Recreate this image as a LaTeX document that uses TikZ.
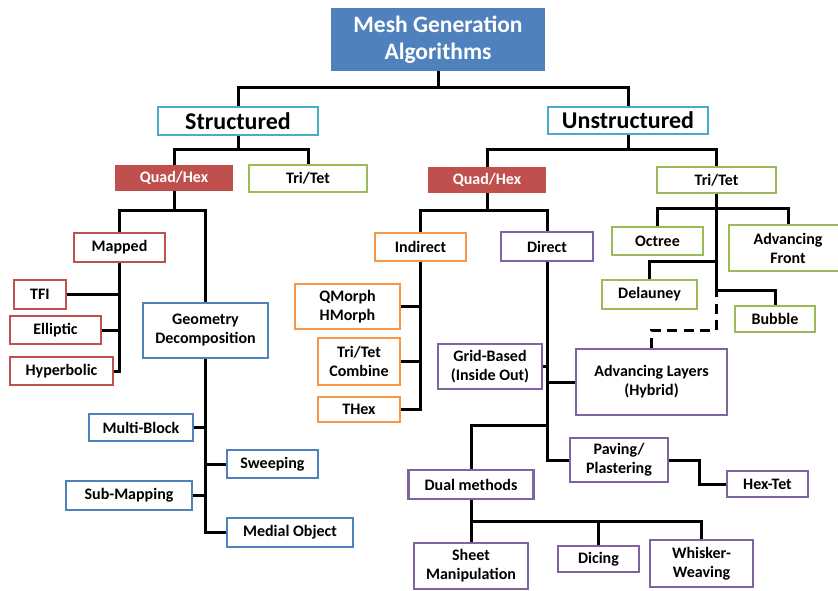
\documentclass[tikz,border=0pt]{standalone}
\usepackage{fontspec}
\setmainfont{Carlito}
\definecolor{cred}{HTML}{C0504D}
\definecolor{cgreen}{HTML}{9BBB59}
\definecolor{corange}{HTML}{F79646}
\definecolor{cpurple}{HTML}{8064A2}
\definecolor{cblue}{HTML}{4F81BD}
\definecolor{ccyan}{HTML}{4BACC6}
\tikzset{
  bx/.style={draw=#1, line width=2.2pt, fill=white, inner sep=0pt, align=center,
    font=\fontsize{16}{19}\selectfont\bfseries},
  big/.style={draw=ccyan, line width=2.2pt, fill=white, inner sep=0pt, align=center,
    font=\fontsize{24}{28}\selectfont\bfseries},
  filled/.style={fill=#1, draw=none, inner sep=0pt, align=center, text=white,
    font=\fontsize{16}{19}\selectfont\bfseries},
  conn/.style={line width=3pt, draw=black},
  sz/.style 2 args={minimum width=#1pt, minimum height=#2pt}
}
\begin{document}
\begin{tikzpicture}[x=1pt,y=-1pt]
\useasboundingbox (0,0) rectangle (838,590);

% nodes
\node[filled=cblue, sz={214}{63}, font=\fontsize{23.5}{27.5}\selectfont\bfseries] (title) at (438,39.5) {Mesh Generation\\Algorithms};
\node[big, sz={160}{28}] (str) at (238,121) {Structured};
\node[big, sz={160}{27}] (uns) at (628,120.5) {Unstructured};
\node[filled=cred, sz={118}{26}] (qhL) at (174,178) {Quad/Hex};
\node[bx=cgreen, sz={118}{27}] (ttL) at (308,178.5) {Tri/Tet};
\node[filled=cred, sz={118}{26}] (qhR) at (487,180) {Quad/Hex};
\node[bx=cgreen, sz={119}{26}] (ttR) at (716.5,180) {Tri/Tet};

\node[bx=cred, sz={91}{29}] (mapped) at (119.5,247.5) {Mapped};
\node[bx=cred, sz={52}{29}] (tfi) at (40,294.5) {TFI};
\node[bx=cred, sz={91}{28}] (ell) at (55.5,330) {Elliptic};
\node[bx=cred, sz={103}{28}] (hyp) at (61.5,371) {Hyperbolic};

\node[bx=cblue, sz={125}{55}] (geo) at (205.5,330.5) {Geometry\\Decomposition};
\node[bx=cblue, sz={104}{27}] (mb) at (141,427.5) {Multi-Block};
\node[bx=cblue, sz={91}{28}] (sw) at (272.5,464) {Sweeping};
\node[bx=cblue, sz={126}{29}] (sm) at (129,495.5) {Sub-Mapping};
\node[bx=cblue, sz={126}{29}] (mo) at (290,532.5) {Medial Object};

\node[bx=corange, sz={91}{28}] (ind) at (420.5,247) {Indirect};
\node[bx=corange, sz={105}{45}] (qm) at (347.5,306.5) {QMorph\\HMorph};
\node[bx=corange, sz={82}{47}] (tc) at (359,361.5) {Tri/Tet\\Combine};
\node[bx=corange, sz={82}{25}] (thex) at (359,409.5) {THex};

\node[bx=cpurple, sz={92}{29}] (dir) at (547,246.5) {Direct};
\node[bx=cpurple, sz={104}{45}] (grid) at (490,366.5) {Grid-Based\\(Inside Out)};
\node[bx=cpurple, sz={151}{66}] (al) at (651.5,382) {Advancing Layers\\(Hybrid)};
\node[bx=cpurple, sz={98}{44}] (pav) at (619,460) {Paving/\\Plastering};
\node[bx=cpurple, sz={81}{26}] (ht) at (767.5,484) {Hex-Tet};
\node[bx=cpurple, sz={125}{29}] (dual) at (471,484.5) {Dual methods};
\node[bx=cpurple, sz={114}{46}] (sheet) at (471,566) {Sheet\\Manipulation};
\node[bx=cpurple, sz={81}{26}] (dic) at (598.5,559) {Dicing};
\node[bx=cpurple, sz={103}{47}] (wh) at (701.5,563.5) {Whisker-\\Weaving};

\node[bx=cgreen, sz={91}{28}] (oct) at (657.5,241) {Octree};
\node[bx=cgreen, sz={118}{46}] (af) at (788,248) {Advancing\\Front};
\node[bx=cgreen, sz={95}{29}] (del) at (649.5,294.5) {Delauney};
\node[bx=cgreen, sz={80}{26}] (bub) at (775,319) {Bubble};

% connectors
\draw[conn] (title.south) -- ++(0,18);
\draw[conn] (str.north) -- ++(0,-18) -| (uns.north);

\draw[conn] (str.south) -- ++(0,15);
\draw[conn] (qhL.north) -- ++(0,-15) -| (ttL.north);
\draw[conn] (uns.south) -- ++(0,16);
\draw[conn] (qhR.north) -- ++(0,-17) -| (ttR.north);

\draw[conn] (qhL.south) -- ++(0,21);
\draw[conn] (mapped.north) -- ++(0,-21) -| (geo.north);
\draw[conn] (mapped.south) |- (hyp.east);
\draw[conn] (tfi.east) -- (tfi.east -| mapped.south);
\draw[conn] (ell.east) -- (ell.east -| mapped.south);

\draw[conn] (geo.south) |- (mo.west);
\draw[conn] (mb.east) -- (mb.east -| geo.south);
\draw[conn] (sw.west) -- (sw.west -| geo.south);
\draw[conn] (sm.east) -- (sm.east -| geo.south);

\draw[conn] (qhR.south) -- ++(0,19);
\draw[conn] (ind.north) -- ++(0,-21) -| (dir.north);
\draw[conn] (ind.south) |- (thex.east);
\draw[conn] (qm.east) -- (qm.east -| ind.south);
\draw[conn] (tc.east) -- (tc.east -| ind.south);

\draw[conn] (dir.south) |- (pav.west);
\draw[conn] (grid.east) -- (grid.east -| dir.south);
\draw[conn] (al.west) -- (al.west -| dir.south);
\draw[conn] (dual.north) -- ++(0,-43) -| (dir.south);
\draw[conn] (pav.east) -- ++(30,0) |- (ht.west);

\draw[conn] (dual.south) -- ++(0,24);
\draw[conn] (sheet.north) -- ++(0,-20) -| (wh.north);
\draw[conn] (dic.north) -- ++(0,-23);

\draw[conn] (ttR.south) -- ++(0,96) coordinate (bj) -| (bub.north);
\draw[conn] (oct.north) -- ++(0,-17) -| (af.north);
\draw[conn] (del.north) -- ++(0,-17) -| (ttR.south);
\draw[conn, dash pattern=on 10pt off 6.5pt] (al.north) -- ++(0,-17.5) -| (bj);
\end{tikzpicture}
\end{document}
